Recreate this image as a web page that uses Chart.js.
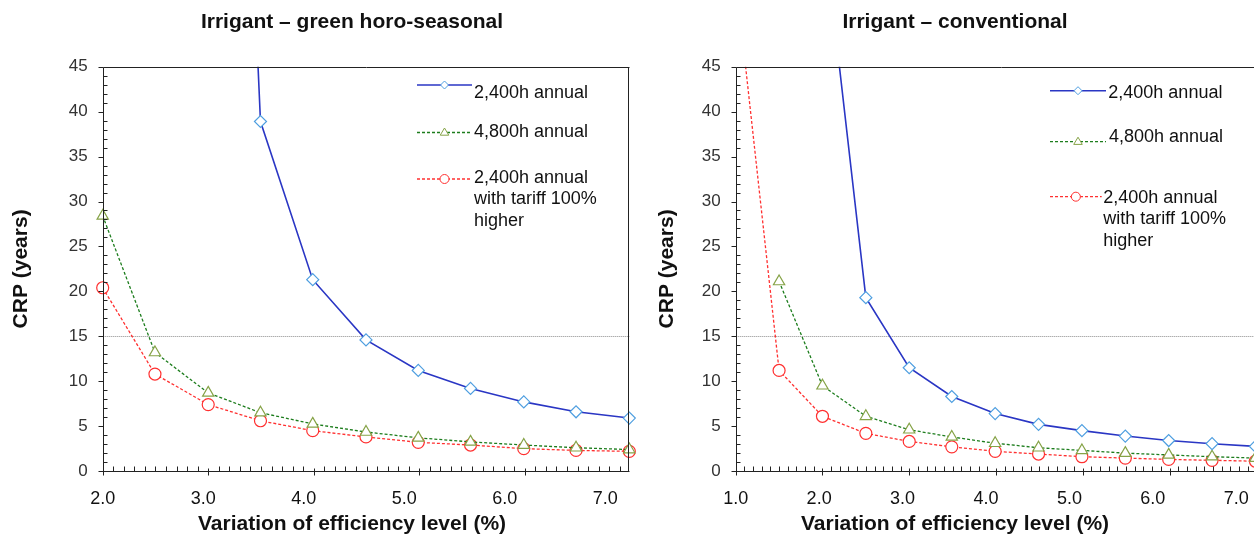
<!DOCTYPE html>
<html>
<head>
<meta charset="utf-8">
<script src="https://cdn.jsdelivr.net/npm/chart.js@4.4.0/dist/chart.umd.min.js"></script>
<style>
  body { margin: 0; background: #fff; width: 1254px; height: 537px; overflow: hidden; position: relative; }
  canvas { position: absolute; top: 0; }
</style>
</head>
<body>
<canvas id="left" width="704" height="537" style="left:0"></canvas>
<canvas id="right" width="638" height="537" style="left:636px"></canvas>
<script>
// efficiency variation (%) for each point
const xLeft = [2.0, 2.52, 3.05, 3.57, 4.09, 4.62, 5.14, 5.66, 6.19, 6.71, 7.24];
const xRight = [1.0, 1.52, 2.04, 2.56, 3.08, 3.59, 4.11, 4.63, 5.15, 5.67, 6.19, 6.71, 7.23];

// CRP (years), green horo-seasonal
const blueLeft = [null, null, 170, 38.9, 21.3, 14.6, 11.2, 9.2, 7.7, 6.6, 5.9];
const greenLeft = [28.4, 13.2, 8.7, 6.5, 5.25, 4.35, 3.7, 3.25, 2.9, 2.6, 2.4];
const redLeft = [20.4, 10.8, 7.4, 5.6, 4.5, 3.8, 3.2, 2.9, 2.5, 2.3, 2.2];

// CRP (years), conventional
const blueRight = [null, null, 61.5, 19.3, 11.5, 8.3, 6.4, 5.2, 4.5, 3.9, 3.4, 3.05, 2.75];
const greenRight = [null, 21.1, 9.5, 6.1, 4.6, 3.8, 3.1, 2.6, 2.3, 2.0, 1.8, 1.6, 1.45];
const redRight = [55, 11.2, 6.1, 4.2, 3.3, 2.7, 2.2, 1.9, 1.6, 1.45, 1.3, 1.2, 1.1];

const xTicksLeft = [2, 3, 4, 5, 6, 7];
const xTicksRight = [1, 2, 3, 4, 5, 6, 7];
const seriesLabels = ['2,400h annual', '4,800h annual', '2,400h annual\nwith tariff 100%\nhigher'];
const threshold = 15;

Chart.defaults.font.family = "'Liberation Sans', Arial, sans-serif";
Chart.defaults.color = '#111';

const pairs = (xs, ys) => xs.map((x, i) => ({ x: x, y: ys[i] }));

// excel style axes: box, outer major ticks, inner minor ticks, the 15 year line
const axisFrame = {
  id: 'axisFrame',
  beforeDatasetsDraw(chart, args, opts) {
    const { ctx, chartArea: a, scales: { y } } = chart;
    const py = Math.round(y.getPixelForValue(threshold)) + 0.5;
    ctx.save();
    ctx.strokeStyle = '#8c8c8c';
    ctx.lineWidth = 1;
    ctx.setLineDash([1, 1]);
    ctx.beginPath();
    ctx.moveTo(a.left, py);
    ctx.lineTo(a.right, py);
    ctx.stroke();
    ctx.restore();
  },
  afterDatasetsDraw(chart, args, opts) {
    const { ctx, chartArea: a, scales: { x, y } } = chart;
    const L = Math.round(a.left) + 0.5;
    const B = Math.round(a.bottom) + 0.5;
    const T = Math.round(a.top) + 0.5;
    const R = Math.round(a.right) - 0.5;
    ctx.save();
    ctx.strokeStyle = '#222';
    ctx.lineWidth = 1;
    ctx.beginPath();
    ctx.moveTo(L, T); ctx.lineTo(L, B); ctx.lineTo(R + 1, B);
    ctx.moveTo(L, T); ctx.lineTo(R + 1, T);
    if (opts.rightBorder) { ctx.moveTo(R, T); ctx.lineTo(R, B); }
    for (let v = y.min; v <= y.max; v += 1) {
      const py = Math.round(y.getPixelForValue(v)) + 0.5;
      if (v % 5 == 0) { ctx.moveTo(L - 5, py); ctx.lineTo(L, py); }
      else { ctx.moveTo(L, py); ctx.lineTo(L + 4, py); }
    }
    const xs = opts.xs;
    const minor = (xs[2] - xs[0]) / 10;
    for (let k = 0; xs[0] + k * minor <= x.max + 1e-6; k++) {
      const px = Math.round(x.getPixelForValue(xs[0] + k * minor)) + 0.5;
      if (k % 10 == 0) { ctx.moveTo(px, B - 3); ctx.lineTo(px, B + 4); }
      else { ctx.moveTo(px, B - 5); ctx.lineTo(px, B); }
    }
    ctx.stroke();
    ctx.restore();
  }
};

const drawMarker = (ctx, style, cx, cy, r) => {
  ctx.beginPath();
  if (style == 'rectRot') {
    ctx.moveTo(cx, cy - r); ctx.lineTo(cx + r, cy); ctx.lineTo(cx, cy + r); ctx.lineTo(cx - r, cy);
    ctx.closePath();
  } else if (style == 'triangle') {
    ctx.moveTo(cx, cy - r); ctx.lineTo(cx + r * 0.95, cy + r * 0.6); ctx.lineTo(cx - r * 0.95, cy + r * 0.6);
    ctx.closePath();
  } else {
    ctx.arc(cx, cy, r, 0, Math.PI * 2);
  }
  ctx.fill();
  ctx.stroke();
};

// legend sitting inside the plot, labels may span several lines
const insideLegend = {
  id: 'insideLegend',
  afterDraw(chart, args, opts) {
    const ctx = chart.ctx;
    ctx.save();
    chart.data.datasets.forEach((ds, i) => {
      const it = opts.items[i];
      ctx.strokeStyle = ds.borderColor;
      ctx.lineWidth = ds.borderWidth;
      ctx.setLineDash(ds.borderDash || []);
      ctx.beginPath();
      ctx.moveTo(opts.x0, it.lineY);
      ctx.lineTo(it.x1, it.lineY);
      ctx.stroke();
      ctx.setLineDash([]);
      ctx.strokeStyle = ds.pointBorderColor;
      ctx.fillStyle = '#fff';
      ctx.lineWidth = 1;
      drawMarker(ctx, ds.pointStyle, (opts.x0 + it.x1) / 2, it.lineY, ds.pointStyle == 'rectRot' ? 4 : 4.5);
      ctx.fillStyle = '#111';
      ctx.font = "18px 'Liberation Sans', Arial, sans-serif";
      ctx.textBaseline = 'middle';
      ds.label.split('\n').forEach((line, j) => {
        ctx.fillText(line, it.textX, it.textY + j * 21.5);
      });
    });
    ctx.restore();
  }
};

const makeChart = (id, cfg) => {
  const datasets = [
    {
      label: seriesLabels[0], data: pairs(cfg.xs, cfg.blue),
      borderColor: '#2a36c4', borderWidth: 1.6,
      pointStyle: 'rectRot', pointRadius: 6, pointBorderColor: '#4f9fe0', pointBackgroundColor: '#fff', pointBorderWidth: 1.2
    },
    {
      label: seriesLabels[1], data: pairs(cfg.xs, cfg.green),
      borderColor: '#1d7d1d', borderWidth: 1.3, borderDash: [3, 2],
      pointStyle: 'triangle', pointRadius: 6.5, pointBorderColor: '#86a347', pointBackgroundColor: '#fff', pointBorderWidth: 1.2
    },
    {
      label: seriesLabels[2], data: pairs(cfg.xs, cfg.red),
      borderColor: '#ff3030', borderWidth: 1.3, borderDash: [3, 2],
      pointStyle: 'circle', pointRadius: 6, pointBorderColor: '#ff3030', pointBackgroundColor: '#fff', pointBorderWidth: 1.2
    }
  ];
  for (const d of datasets) {
    d.fill = false;
    d.tension = 0;
    d.spanGaps = false;
    d.clip = { left: 8, right: 8, top: 0, bottom: 8 };
  }
  const scales = {
    x: {
      type: 'linear', min: cfg.xs[0], max: cfg.xMax,
      grid: { display: false }, border: { display: false },
      afterBuildTicks: (s) => { s.ticks = cfg.xTicks.map((v) => ({ value: v })); },
      ticks: { autoSkip: false, maxRotation: 0, padding: 9, color: '#111', font: { size: 18 },
        callback: (v) => Number(v).toFixed(1) },
      afterFit: (s) => { s.height = 40.7; }
    },
    y: {
      min: 0, max: 45,
      grid: { display: false }, border: { display: false },
      ticks: { stepSize: 5, padding: 7, color: '#333', font: { size: 17 } },
      title: { display: true, text: 'CRP (years)', color: '#111', font: { size: 21, weight: 'bold' },
        padding: { top: cfg.yTitlePad, bottom: 0 } },
      afterFit: (s) => { s.width = cfg.yWidth; }
    }
  };
  if (cfg.rightSpace) {
    scales.yr = {
      position: 'right', display: true,
      grid: { display: false }, border: { display: false }, ticks: { display: false },
      afterFit: (s) => { s.width = cfg.rightSpace; }
    };
  }
  return new Chart(document.getElementById(id), {
    type: 'line',
    data: { datasets: datasets },
    options: {
      responsive: false,
      animation: false,
      layout: { padding: 0 },
      scales: scales,
      plugins: {
        legend: { display: false },
        tooltip: { enabled: false },
        title: { display: true, text: cfg.title, color: '#111', font: { size: 21, weight: 'bold' },
          padding: { top: 10, bottom: 31.5 } },
        subtitle: { display: true, position: 'bottom', text: 'Variation of efficiency level (%)', color: '#111',
          font: { size: 21, weight: 'bold' }, padding: { top: 0, bottom: 0 } },
        axisFrame: { xs: cfg.xs, rightBorder: !!cfg.rightSpace },
        insideLegend: cfg.legend
      }
    },
    plugins: [axisFrame, insideLegend]
  });
};

makeChart('left', {
  title: 'Irrigant \u2013 green horo-seasonal',
  xs: xLeft, xMax: 7.24, xTicks: xTicksLeft,
  blue: blueLeft, green: greenLeft, red: redLeft,
  yWidth: 102.7, yTitlePad: 9, rightSpace: 74.7,
  legend: {
    x0: 417,
    items: [
      { x1: 472, lineY: 85, textX: 474, textY: 92.7 },
      { x1: 472, lineY: 132.5, textX: 474, textY: 132.3 },
      { x1: 472, lineY: 179, textX: 474, textY: 177.7 }
    ]
  }
});

makeChart('right', {
  title: 'Irrigant \u2013 conventional',
  xs: xRight, xMax: 7.36, xTicks: xTicksRight,
  blue: blueRight, green: greenRight, red: redRight,
  yWidth: 99.7, yTitlePad: 19, rightSpace: 0,
  legend: {
    x0: 414,
    items: [
      { x1: 470, lineY: 90.7, textX: 472.3, textY: 92.7 },
      { x1: 470, lineY: 141.7, textX: 473, textY: 136.7 },
      { x1: 465.7, lineY: 196.7, textX: 467.3, textY: 197.7 }
    ]
  }
});
</script>
</body>
</html>
